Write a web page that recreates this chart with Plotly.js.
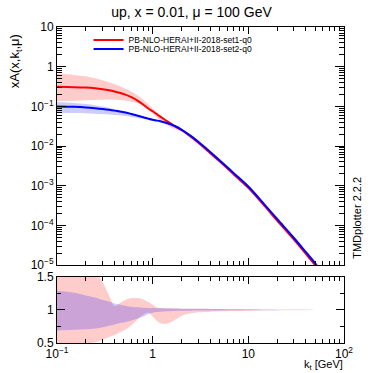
<!DOCTYPE html>
<html><head><meta charset="utf-8">
<script src="https://cdn.plot.ly/plotly-3.0.1.min.js"></script>
<style>html,body{margin:0;padding:0;background:#fff;}</style>
</head><body><div id="chart" style="width:383px;height:373px;"></div>
<script>
// ---- data ----
const kt = [0.1,0.15,0.2,0.25,0.3,0.35,0.4,0.45,0.5,0.6,0.7,0.8,0.9,1,1.1,1.2,1.4,1.7,2,2.5,3,4,5,7,10,15,20,30,40,50,60,70,100];
// set1 (red) central value and its band in the main panel
const set1Central = [0.31,0.305,0.297,0.285,0.27,0.254,0.237,0.22,0.203,0.17,0.138,0.11,0.088,0.075,0.064,0.055,0.043,0.0315,0.0253,0.0172,0.0121,0.0066,0.0041,0.00195,8.8e-4,2.95e-4,1.32e-4,4.35e-5,1.9e-5,9.8e-6,4.9e-6,2.45e-6,2.6e-7];
const set1BandLow = [0.135,0.139,0.143,0.145,0.147,0.148,0.147,0.145,0.14,0.131,0.119,0.102,0.084,0.068,0.054,0.044,0.034,0.0268,0.023,0.0163,0.0117,0.0064,0.004,0.00192,8.7e-4,2.93e-4,1.31e-4,4.34e-5,1.9e-5,9.8e-6,4.9e-6,2.45e-6,2.6e-7];
const set1BandHigh = [0.66,0.62,0.57,0.51,0.455,0.405,0.36,0.325,0.29,0.235,0.185,0.145,0.113,0.09,0.072,0.06,0.045,0.0325,0.0258,0.0175,0.0123,0.0067,0.00416,0.00197,8.87e-4,2.96e-4,1.325e-4,4.36e-5,1.9e-5,9.8e-6,4.9e-6,2.45e-6,2.6e-7];
// set1 ratio band (lower panel)
const set1RatioLow = [0.42,0.45,0.48,0.51,0.55,0.59,0.62,0.66,0.69,0.77,0.86,0.93,0.96,0.9,0.84,0.8,0.79,0.85,0.91,0.95,0.965,0.975,0.98,0.985,0.99,0.993,0.995,0.997,0.998,0.999,0.999,1,1];
const set1RatioHigh = [2.2,1.95,1.75,1.58,1.42,1.22,1.06,1.1,1.14,1.18,1.18,1.16,1.12,1.08,1.04,1.03,1.025,1.022,1.02,1.02,1.018,1.016,1.014,1.01,1.008,1.005,1.004,1.003,1.002,1.001,1.001,1,1];
// set2 (blue) central value and ratio band
const set2Central = [0.099,0.097,0.094,0.09,0.086,0.082,0.078,0.074,0.071,0.064,0.058,0.053,0.049,0.046,0.044,0.042,0.038,0.032,0.026,0.018,0.0128,0.0071,0.0044,0.0021,9.5e-4,3.2e-4,1.45e-4,4.8e-5,2.1e-5,1.1e-5,5.5e-6,2.8e-6,3e-7];
const set2RatioLow = [0.69,0.7,0.71,0.72,0.74,0.76,0.78,0.8,0.81,0.84,0.87,0.9,0.94,0.96,0.97,0.975,0.98,0.985,0.988,0.99,0.992,0.993,0.994,0.995,0.996,0.997,0.998,0.999,0.999,1,1,1,1];
const set2RatioHigh = [1.29,1.26,1.22,1.19,1.15,1.13,1.1,1.085,1.07,1.05,1.04,1.035,1.032,1.03,1.028,1.026,1.024,1.022,1.02,1.018,1.017,1.016,1.015,1.012,1.01,1.007,1.005,1.003,1.002,1.001,1,1,1];
const seriesNames = ['PB-NLO-HERAI+II-2018-set1-q0','PB-NLO-HERAI+II-2018-set2-q0'];
const yTickVals = [1e-5,1e-4,1e-3,1e-2,1e-1,1,10];
const yTickText = ['10<sup>−5</sup>','10<sup>−4</sup>','10<sup>−3</sup>','10<sup>−2</sup>','10<sup>−1</sup>','1','10'];
const xTickVals = [0.1,1,10,100];
const xTickText = ['10<sup>−1</sup>','1','10','10<sup>2</sup>'];
const rTickVals = [0.5,1,1.5];
const rTickText = ['0.5','1','1.5'];

// ---- styling ----
const RED = '#ff0000', BLUE = '#0000ff';
const RED_FILL = 'rgba(255,0,0,0.2)', BLUE_FILL = 'rgba(0,0,255,0.2)';
const FONT = 'Liberation Sans, Arial, Helvetica, sans-serif';

function minorLog(lo, hi){
  const v=[]; for(let e=lo;e<hi;e++){for(let m=2;m<=9;m++) v.push(m*Math.pow(10,e));} return v;
}
const mul = (a,b)=>a.map((v,i)=>v*b[i]);

function band(x, lo, hi, fill, xa, ya){
  return [
    {x:x, y:lo, xaxis:xa, yaxis:ya, mode:'lines', line:{width:0, shape:'spline'}, showlegend:false, hoverinfo:'skip'},
    {x:x, y:hi, xaxis:xa, yaxis:ya, mode:'lines', line:{width:0, shape:'spline'}, fill:'tonexty', fillcolor:fill, showlegend:false, hoverinfo:'skip'}
  ];
}

const traces = [
  ...band(kt, set1BandLow, set1BandHigh, RED_FILL, 'x', 'y'),
  ...band(kt, mul(set2Central,set2RatioLow), mul(set2Central,set2RatioHigh), BLUE_FILL, 'x', 'y'),
  {x:kt, y:set1Central, xaxis:'x', yaxis:'y', mode:'lines', name:seriesNames[0], legend:'legend', line:{color:RED, width:2, shape:'spline'}},
  {x:kt, y:set2Central, xaxis:'x', yaxis:'y', mode:'lines', name:seriesNames[1], legend:'legend2', line:{color:BLUE, width:2, shape:'spline'}},
  ...band(kt, set1RatioLow, set1RatioHigh, RED_FILL, 'x2', 'y2'),
  ...band(kt, set2RatioLow, set2RatioHigh, BLUE_FILL, 'x2', 'y2'),
];

const axCommon = {showline:true, linecolor:'#000', linewidth:1, mirror:'ticks', ticks:'inside', tickcolor:'#000', showgrid:false, zeroline:false, tickfont:{size:12, color:'#000'}};
const xMinor = {tickmode:'array', tickvals:minorLog(-1,2), ticks:'inside', ticklen:4, tickcolor:'#000', showgrid:false};
const legendCommon = {xanchor:'left', yanchor:'middle', bgcolor:'rgba(0,0,0,0)', font:{size:8.5, color:'#000'}, tracegroupgap:0, traceorder:'normal'};

const layout = {
  width:383, height:373,
  margin:{l:57, r:39, t:27, b:30},
  paper_bgcolor:'#fff', plot_bgcolor:'#fff',
  font:{family:FONT, color:'#000'},
  title:{text:'up, x = 0.01, μ = 100 GeV', font:{size:14, color:'#000'}, x:0.5, xref:'container', y:1-12/373, yref:'container', yanchor:'middle'},
  showlegend:true,
  legend:Object.assign({}, legendCommon, {x:0.11, y:(343-40)/316}),
  legend2:Object.assign({}, legendCommon, {x:0.11, y:(343-49)/316}),
  xaxis:Object.assign({}, axCommon, {type:'log', range:[-1,2], anchor:'y', showticklabels:false, tickmode:'array', tickvals:xTickVals, ticktext:xTickText, ticklen:7, minor:xMinor}),
  yaxis:Object.assign({}, axCommon, {type:'log', range:[-5,1], domain:[0.2468,1], anchor:'x', tickmode:'array', tickvals:yTickVals, ticktext:yTickText, ticklen:9,
    minor:{tickmode:'array', tickvals:minorLog(-5,1), ticks:'inside', ticklen:5, tickcolor:'#000', showgrid:false}}),
  xaxis2:Object.assign({}, axCommon, {type:'log', range:[-1,2], anchor:'y2', matches:'x', tickmode:'array', tickvals:xTickVals, ticktext:xTickText, ticklen:7, minor:xMinor}),
  yaxis2:Object.assign({}, axCommon, {range:[0.5,1.5], domain:[0,0.2089], anchor:'x2', tickmode:'array', tickvals:rTickVals, ticktext:rTickText, ticklen:8,
    minor:{tickmode:'array', tickvals:[0.75,1.25], ticks:'inside', ticklen:4, tickcolor:'#000', showgrid:false}}),
  annotations:[
    {text:'xA(x,k<sub>t</sub>,μ)', xref:'paper', yref:'paper', x:-0.146, y:0.892, xanchor:'center', yanchor:'middle', textangle:-90, showarrow:false, font:{size:13, color:'#000'}},
    {text:'k<sub>t</sub> [GeV]', xref:'paper', yref:'paper', x:1, y:-0.0935, xanchor:'right', yanchor:'bottom', borderpad:0, showarrow:false, font:{size:11, color:'#000'}},
    {text:'TMDplotter 2.2.2', xref:'paper', yref:'paper', x:1.045, y:0.396, xanchor:'center', yanchor:'middle', textangle:-90, showarrow:false, font:{size:11, color:'#000'}}
  ]
};

Plotly.newPlot('chart', traces, layout, {staticPlot:true, displayModeBar:false});
</script></body></html>
